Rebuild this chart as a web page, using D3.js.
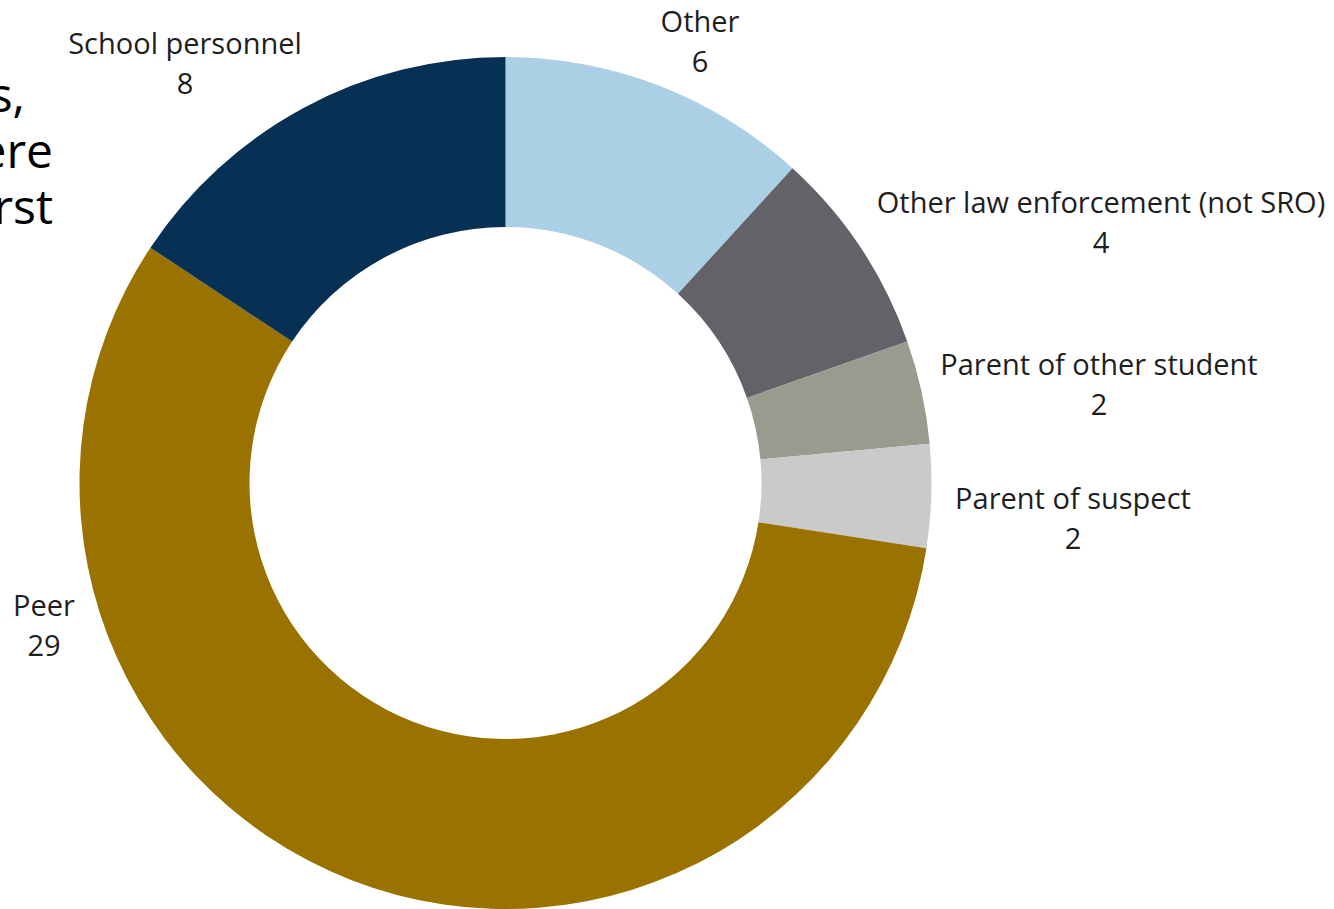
<!DOCTYPE html>
<html>
<head>
<meta charset="utf-8">
<script src="https://cdn.jsdelivr.net/npm/d3@7"></script>
<style>
  html, body { margin: 0; padding: 0; background: #ffffff; }
  svg { display: block; }
</style>
</head>
<body>
<svg id="chart" width="1334" height="909"></svg>
<script>
// Who first reported the incident — counts by reporter type, clockwise from 12 o'clock
const categories = [
  "Other",
  "Other law enforcement (not SRO)",
  "Parent of other student",
  "Parent of suspect",
  "Peer",
  "School personnel"
];
const counts = [6, 4, 2, 2, 29, 8];
const sliceColors = ["#abd0e6", "#636268", "#9b9a8f", "#cacaca", "#9a7200", "#073055"];

// Fragment of the accompanying slide text that runs off the left edge
const sideTextLines = ["s,", "ere", "rst"];

const W = 1334, H = 909;
const cx = 505.5, cy = 483;
const outerR = 426, innerR = 256;

// Label anchor points (name line baseline) for each slice
const labelAnchor = {
  "Other": [700, 32],
  "Other law enforcement (not SRO)": [1101, 213],
  "Parent of other student": [1099, 375],
  "Parent of suspect": [1073, 509],
  "Peer": [44, 616],
  "School personnel": [185, 54]
};

const svg = d3.select("#chart");

const data = categories.map((c, i) => ({ category: c, value: counts[i] }));
const color = d3.scaleOrdinal().domain(categories).range(sliceColors);

const pie = d3.pie().value(d => d.value).sort(null);
const arc = d3.arc().innerRadius(innerR).outerRadius(outerR);

const g = svg.append("g").attr("transform", `translate(${cx},${cy})`);
g.selectAll("path.slice")
  .data(pie(data))
  .join("path")
  .attr("class", "slice")
  .attr("d", arc)
  .attr("fill", d => color(d.data.category));

// Slice labels: category name with the count beneath it
const labels = svg.append("g")
  .attr("font-family", "'Open Sans', Lato, sans-serif")
  .attr("font-size", 29)
  .attr("font-weight", 500)
  .attr("fill", "#1e1e1e")
  .attr("text-anchor", "middle");

data.forEach(d => {
  const [x, y] = labelAnchor[d.category];
  const t = labels.append("text").attr("x", x).attr("y", y);
  t.append("tspan").attr("x", x).attr("dy", 0).text(d.category);
  t.append("tspan").attr("x", x).attr("dy", 40).text(d.value);
});

// Clipped slide body text at the far left
const side = svg.append("g")
  .attr("font-family", "'Open Sans', 'Liberation Sans', sans-serif")
  .attr("font-size", 48)
  .attr("fill", "#000")
  .attr("text-anchor", "end");
const sideX = [25, 53, 53];
const sideY = [112, 168, 224];
sideTextLines.forEach((s, i) => {
  side.append("text").attr("x", sideX[i]).attr("y", sideY[i]).text(s);
});
</script>
</body>
</html>
